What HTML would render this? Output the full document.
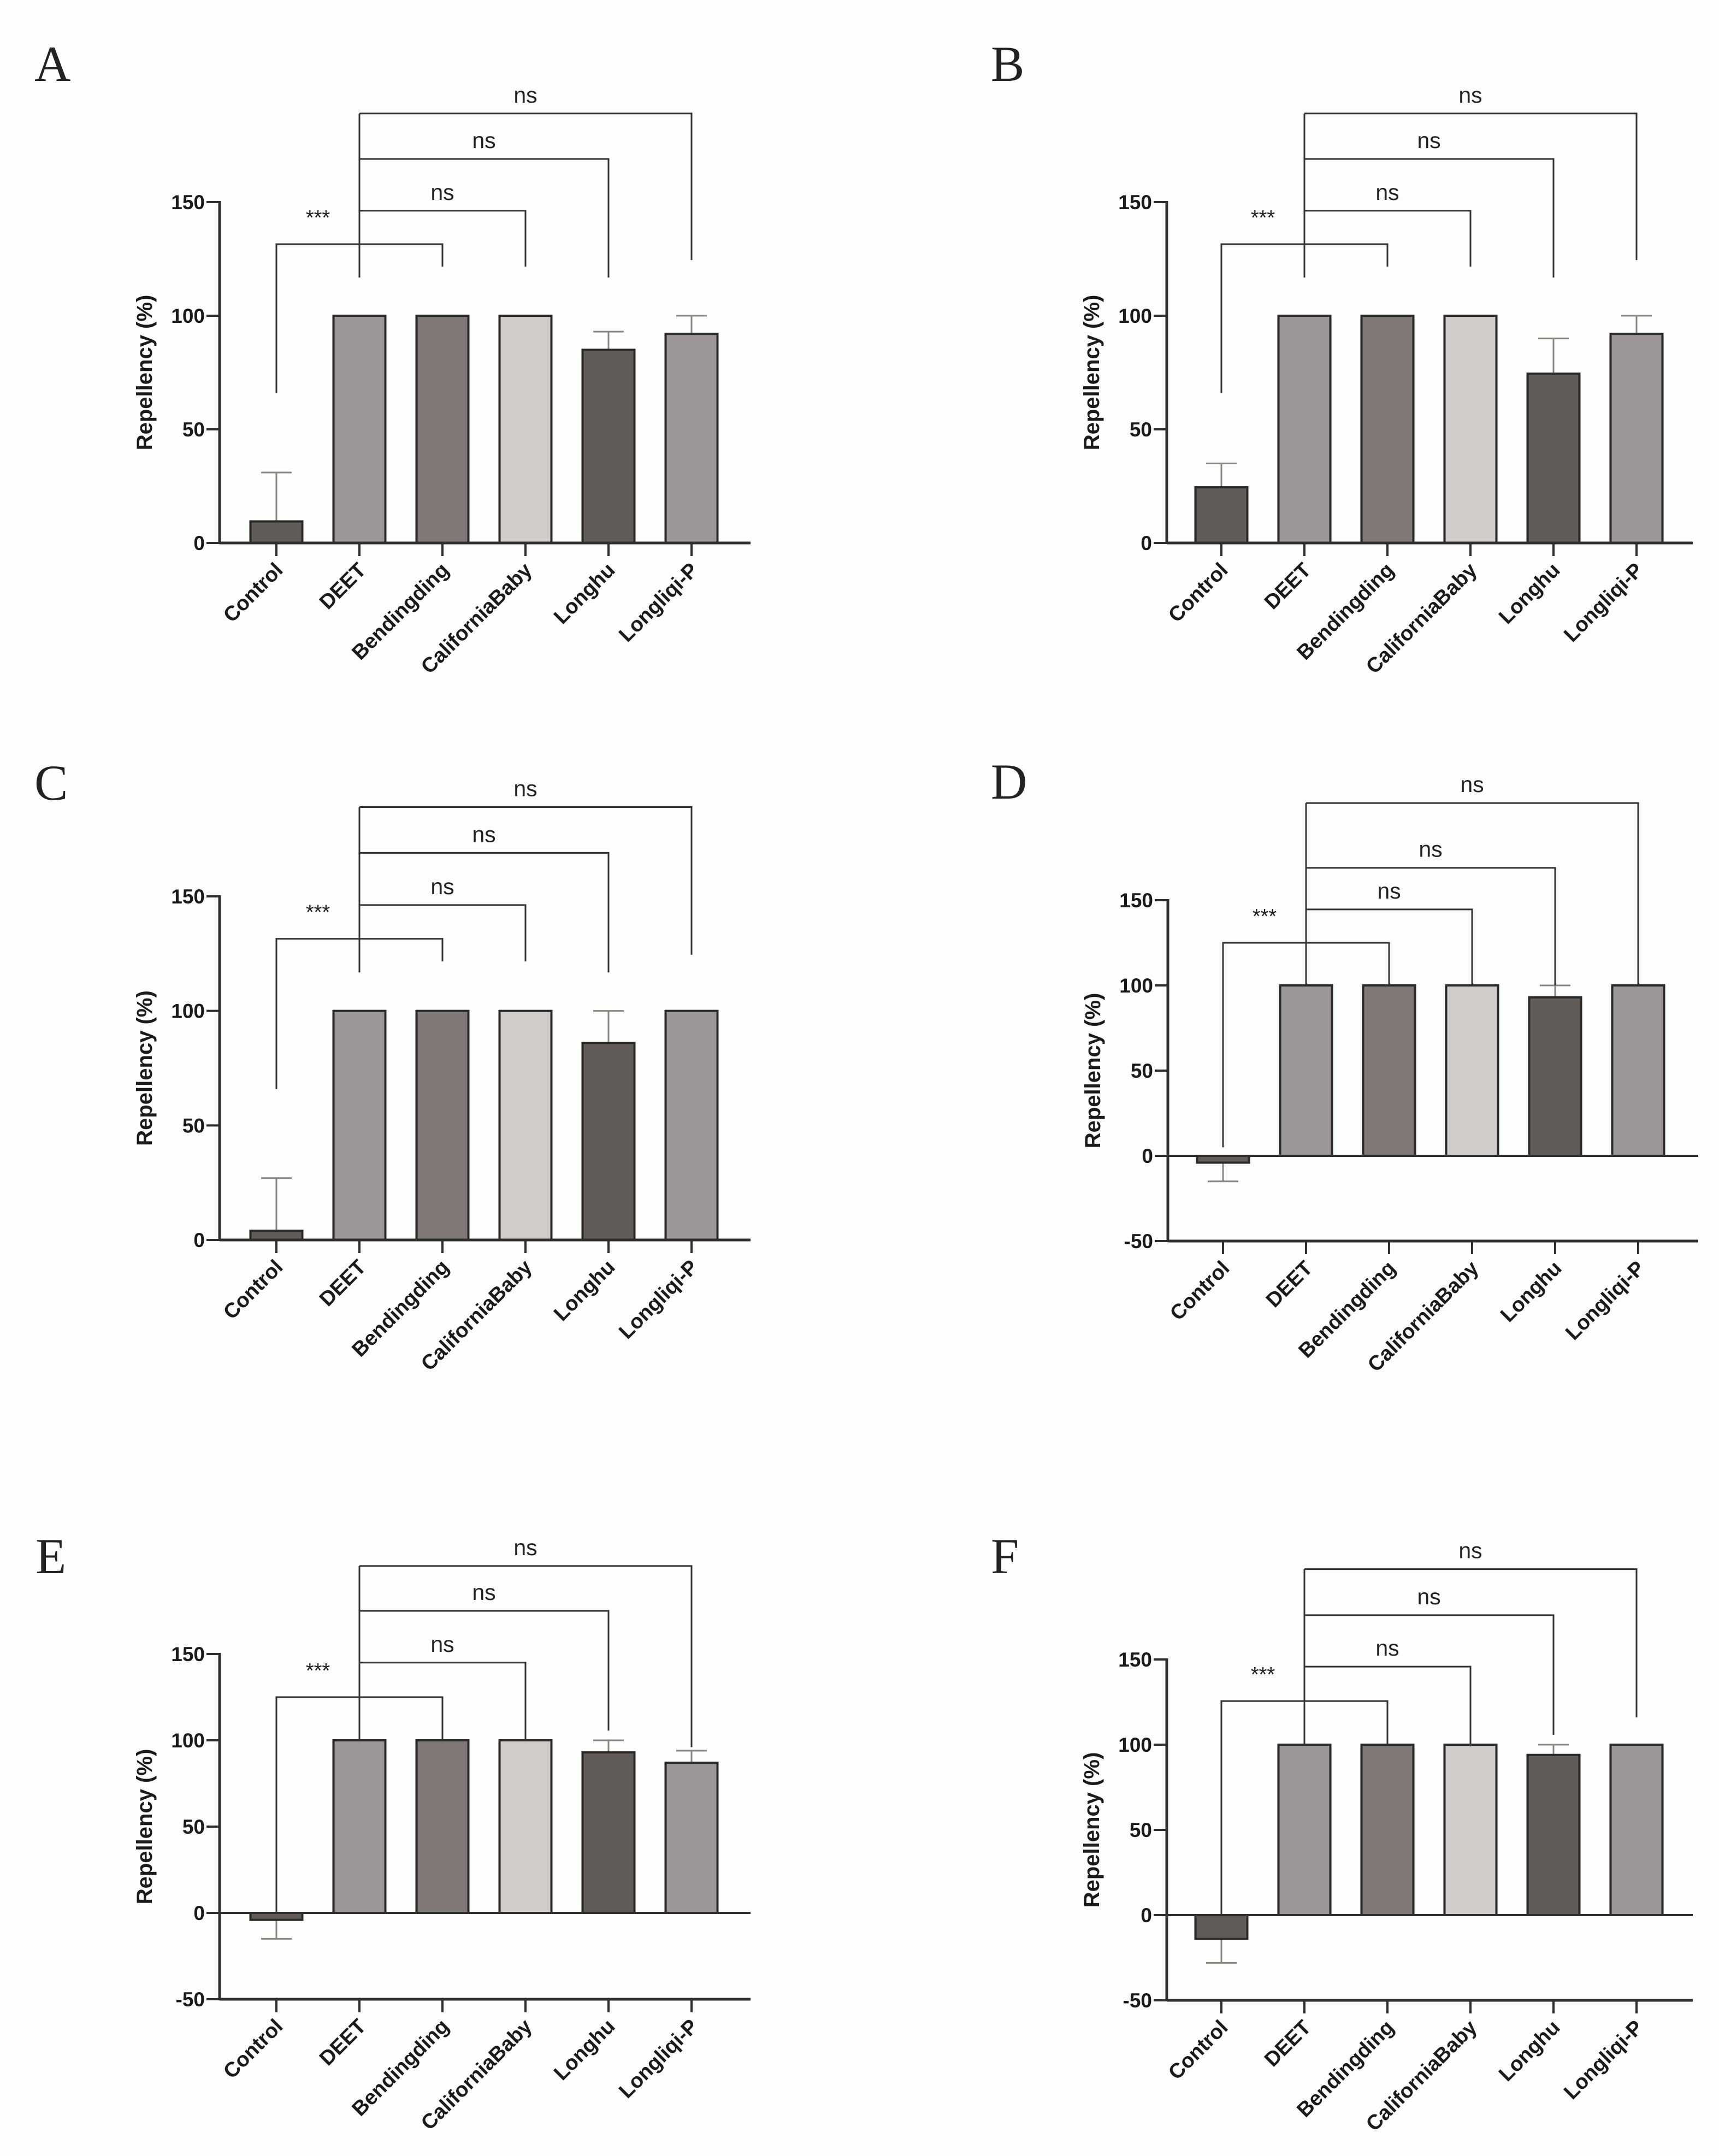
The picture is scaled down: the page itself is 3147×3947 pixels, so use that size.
<!DOCTYPE html>
<html><head><meta charset="utf-8"><style>
html,body{margin:0;padding:0;background:#fdfdfb;}
svg{display:block;}
text{font-family:"Liberation Sans",Arial,sans-serif;}
</style></head>
<body>
<svg id="fig" width="3147" height="3947" viewBox="0 0 3147 3947" xmlns="http://www.w3.org/2000/svg">
<rect x="0" y="0" width="3147" height="3947" fill="#fdfdfb"/>
</svg>
<script>
const categories = ["Control","DEET","Bendingding","CaliforniaBaby","Longhu","Longliqi-P"];
const barColors = ["#625c58","#9c9696","#7f7877","#d1ccc9","#625c58","#9c9696"];
const valuesA = [9.5,100,100,100,85,92];
const errorsA = [31,100,100,100,93,100];
const valuesB = [24.5,100,100,100,74.5,92];
const errorsB = [35,100,100,100,90,100];
const valuesC = [4,100,100,100,86,100];
const errorsC = [27,100,100,100,100,100];
const valuesD = [-4,100,100,100,93,100];
const errorsD = [-15,100,100,100,100,100];
const valuesE = [-4,100,100,100,93,87];
const errorsE = [-15,100,100,100,100,94];
const valuesF = [-14,100,100,100,94,100];
const errorsF = [-28,100,100,100,100,100];
const levelsABC = [131.5,146.2,169,189];
const dropsABC = [65.9,116.8,121.6,121.6,116.8,124.5];
const levelsD = [125,144.6,169,207];
const dropsD = [5,100,100,100,100,100];
const levelsE = [125,145,175,201];
const dropsE = [0,100,100,100,105.6,96];
const levelsF = [125.6,145.8,176,203];
const dropsF = [0,100,100,99,105.8,116];
const ticksPos = [0,50,100,150];
const ticksNeg = [-50,0,50,100,150];

const NS = "http://www.w3.org/2000/svg";
const svg = document.getElementById("fig");
function mk(tag, attrs, parent, txt){
  const e = document.createElementNS(NS, tag);
  for (const k in attrs) e.setAttribute(k, attrs[k]);
  if (txt !== undefined) e.textContent = txt;
  (parent||svg).appendChild(e);
  return e;
}

const panels = [
  {id:"A", ax:402, y150:370, y0:994, ymin:0, xEnd:1374, cx0:506, lx:63, ly:148, vals:valuesA, errs:errorsA, levels:levelsABC, drops:dropsABC, ticks:ticksPos},
  {id:"B", ax:2136, y150:370, y0:994, ymin:0, xEnd:3099, cx0:2236, lx:1814, ly:148, vals:valuesB, errs:errorsB, levels:levelsABC, drops:dropsABC, ticks:ticksPos},
  {id:"C", ax:402, y150:1641, y0:2270, ymin:0, xEnd:1374, cx0:506, lx:63, ly:1464, vals:valuesC, errs:errorsC, levels:levelsABC, drops:dropsABC, ticks:ticksPos},
  {id:"D", ax:2138, y150:1648, y0:2116, ymin:-50, xEnd:3109, cx0:2239, lx:1814, ly:1462, vals:valuesD, errs:errorsD, levels:levelsD, drops:dropsD, ticks:ticksNeg},
  {id:"E", ax:402, y150:3028, y0:3502, ymin:-50, xEnd:1374, cx0:506, lx:65, ly:2880, vals:valuesE, errs:errorsE, levels:levelsE, drops:dropsE, ticks:ticksNeg},
  {id:"F", ax:2136, y150:3038, y0:3506, ymin:-50, xEnd:3099, cx0:2236, lx:1814, ly:2880, vals:valuesF, errs:errorsF, levels:levelsF, drops:dropsF, ticks:ticksNeg}
];
const SP = 152, BW = 95, AX = "#2e2e2e";

panels.forEach(p => {
  const g = mk("g", {});
  
  
  const y = v => p.y0 - v * (p.y0 - p.y150) / 150;
  const x = i => p.cx0 + i * SP;
  const lt = mk("text", {x:p.lx, y:p.ly, "font-size":92, fill:"#222", style:'font-family:"Liberation Serif",serif'}, g, p.id);
  
  
  p.vals.forEach((v,i) => {
    const top = Math.min(y(v), y(0)), h = Math.abs(y(v) - y(0));
    const ev = p.errs[i];
    if (Math.abs(ev - v) > 0.5) {
      const el = mk("line", {x1:x(i), x2:x(i), y1:y(v), y2:y(ev), stroke:"#8a8684", "stroke-width":3}, g);
      
      
      const ec = mk("line", {x1:x(i)-28, x2:x(i)+28, y1:y(ev), y2:y(ev), stroke:"#8a8684", "stroke-width":3}, g);
      
      
    }
    const b = mk("rect", {x:x(i)-BW/2, y:top, width:BW, height:h, fill:barColors[i], stroke:"#2a2a2a", "stroke-width":4}, g);
    
    
    const tk = mk("line", {x1:x(i), x2:x(i), y1:y(p.ymin), y2:y(p.ymin)+24, stroke:AX, "stroke-width":4}, g);
    
    
    const lb = mk("text", {x:0, y:0, "font-size":38, "font-weight":"bold", fill:"#1a1a1a", "text-anchor":"end",
      transform:`translate(${x(i)+14},${y(p.ymin)+52}) rotate(-45)`}, g, categories[i]);
    
    
  });
  const ya = mk("line", {x1:p.ax, x2:p.ax, y1:y(150)-2, y2:y(p.ymin)+2, stroke:AX, "stroke-width":5}, g);
  
  
  const xa = mk("line", {x1:p.ax, x2:p.xEnd, y1:y(p.ymin), y2:y(p.ymin), stroke:AX, "stroke-width":5}, g);
  
  
  if (p.ymin < 0) {
    const zl = mk("line", {x1:p.ax, x2:p.xEnd, y1:y(0), y2:y(0), stroke:AX, "stroke-width":4}, g);
    
    
  }
  p.ticks.forEach(t => {
    const tl = mk("line", {x1:p.ax-24, x2:p.ax, y1:y(t), y2:y(t), stroke:AX, "stroke-width":4}, g);
    
    
    const tt = mk("text", {x:p.ax-27, y:y(t)+13, "font-size":37, "font-weight":"bold", fill:"#1a1a1a", "text-anchor":"end"}, g, String(t));
    
    
  });
  const yt = mk("text", {x:0, y:0, "font-size":40, "font-weight":"bold", fill:"#1a1a1a", "text-anchor":"middle",
    transform:`translate(${p.ax-124},${(y(150)+y(p.ymin))/2}) rotate(-90)`}, g, "Repellency (%)");
  
  
  const L = p.levels, D = p.drops, bs = {stroke:"#333", "stroke-width":3, fill:"none"};
  const s1 = mk("polyline", Object.assign({points:`${x(0)},${y(D[0])} ${x(0)},${y(L[0])} ${x(2)},${y(L[0])} ${x(2)},${y(D[2])}`}, bs), g);
  
  
  const st = mk("text", {x:(x(0)+x(1))/2, y:y(L[0])-36, "font-size":38, fill:"#222", "text-anchor":"middle"}, g, "***");
  
  
  const dv = mk("line", {x1:x(1), x2:x(1), y1:y(D[1]), y2:y(L[3]), stroke:"#333", "stroke-width":3}, g);
  
  
  [3,4,5].forEach((k,j) => {
    const lv = L[j+1];
    const br = mk("polyline", Object.assign({points:`${x(1)},${y(lv)} ${x(k)},${y(lv)} ${x(k)},${y(D[k])}`}, bs), g);
    
    
    const nt = mk("text", {x:(x(1)+x(k))/2, y:y(lv)-20, "font-size":41, fill:"#222", "text-anchor":"middle"}, g, "ns");
    
    
  });
});
</script>
</body></html>
